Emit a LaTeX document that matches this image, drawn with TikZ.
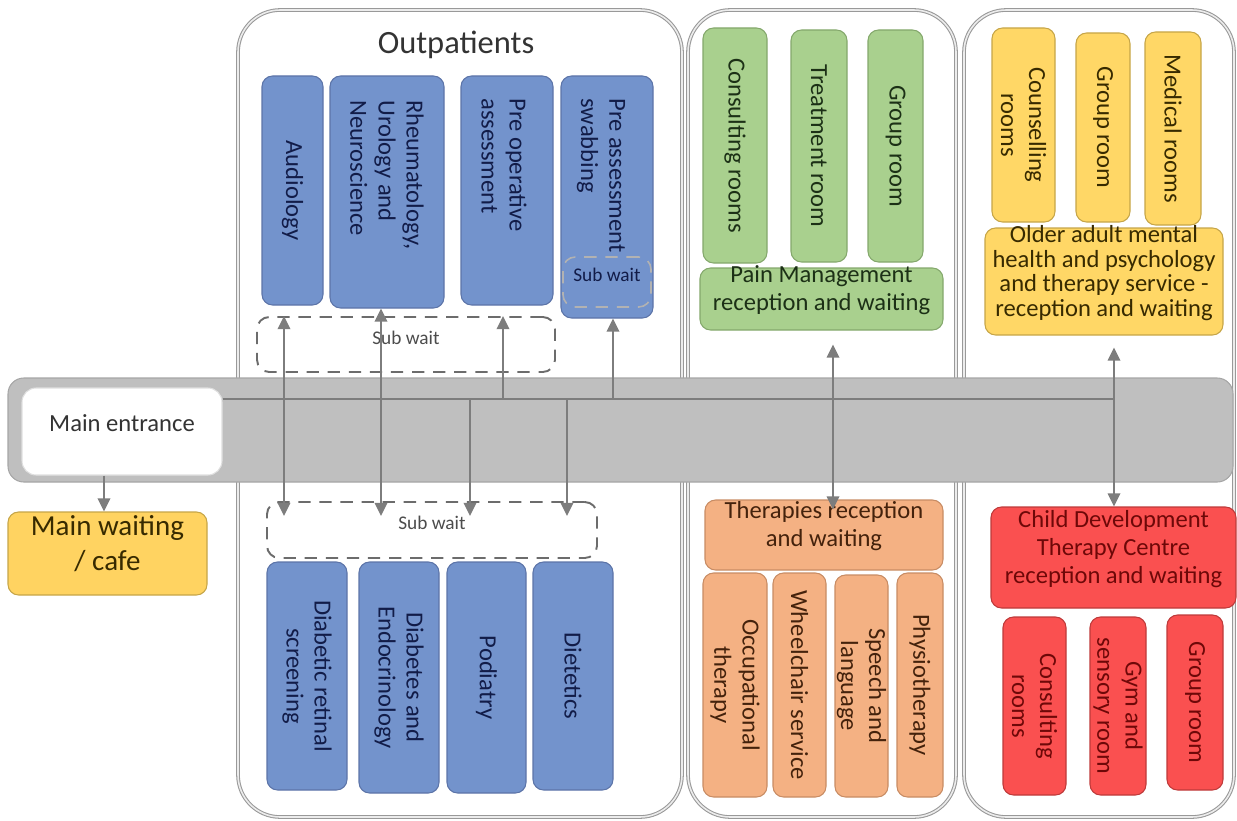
\documentclass[tikz,border=0pt]{standalone}
\usepackage{fontspec}
\setmainfont{Carlito}
\usetikzlibrary{fit,calc,arrows.meta}

\definecolor{opblue}{RGB}{115,147,204}
\definecolor{opblueline}{RGB}{92,116,168}
\definecolor{opbluetext}{RGB}{18,28,72}
\definecolor{pmgreen}{RGB}{169,208,142}
\definecolor{pmgreenline}{RGB}{132,168,108}
\definecolor{pmgreentext}{RGB}{28,48,22}
\definecolor{oayellow}{RGB}{255,215,102}
\definecolor{oayellowline}{RGB}{198,165,72}
\definecolor{oayellowtext}{RGB}{55,42,0}
\definecolor{thorange}{RGB}{244,177,131}
\definecolor{thorangeline}{RGB}{200,140,100}
\definecolor{thorangetext}{RGB}{68,34,12}
\definecolor{cdred}{RGB}{250,80,80}
\definecolor{cdredline}{RGB}{190,58,58}
\definecolor{cdredtext}{RGB}{110,8,8}
\definecolor{corridor}{RGB}{191,191,191}
\definecolor{linegrey}{RGB}{125,125,125}

\begin{document}
\begin{tikzpicture}[x=0.02cm, y=-0.02cm,
  box/.style={inner sep=0pt, rounded corners=6pt, line width=0.6pt, align=center,
    font=\fontsize{14}{16}\selectfont},
  blueroom/.style={box, draw=opblueline, fill=opblue},
  greenroom/.style={box, draw=pmgreenline, fill=pmgreen, text=pmgreentext},
  yellowroom/.style={box, draw=oayellowline, fill=oayellow, text=oayellowtext},
  orangeroom/.style={box, draw=thorangeline, fill=thorange, text=thorangetext},
  redroom/.style={box, draw=cdredline, fill=cdred, text=cdredtext},
  vtext/.style={rotate=-90, inner sep=0pt, align=center, font=\fontsize{14}{16}\selectfont},
  subwait/.style={inner sep=0pt, rounded corners=7pt, draw=gray!85!black, line width=1.1pt,
    dash pattern=on 7pt off 5pt, font=\fontsize{11}{13}\selectfont, text=black!70},
  panel/.style={draw=gray!80, double=gray!15, double distance=0.9pt, line width=0.6pt,
    rounded corners=24pt},
  arr/.style={draw=linegrey, line width=1.4pt, -{Triangle[length=7.5pt,width=7pt]}},
  twoway/.style={arr, {Triangle[length=7.5pt,width=7pt]}-{Triangle[length=7.5pt,width=7pt]}}]

\useasboundingbox (0,0) rectangle (1237,821);

%%%%%%%%%%%%%%%%%%%%%%%%%%%%
% the three wings
\draw[panel] (238,10) rectangle (682,817);
\draw[panel] (688,10) rectangle (956,817);
\draw[panel] (964,10) rectangle (1234,817);

\node[font=\fontsize{18.5}{22}\selectfont, text=black!80] (outp) at (456,45) {Outpatients};

%%%%%%%%%%%%%%%%%%%%%%%%%%%%
% corridor
\draw[fill=corridor, draw=gray!70, line width=0.6pt, rounded corners=9pt]
(8,378) rectangle (1233,482);

\node[box, fit={(22,388) (222,475)}, draw=gray!25, fill=white, rounded corners=8pt,
  text=black!80] (entr) {Main entrance};
\node[box, fit={(8,512) (207,595)}, draw=oayellowline, fill=oayellow!95!orange,
  text=oayellowtext, font=\fontsize{16.5}{19.5}\selectfont] (wait) {Main waiting\\ / cafe};

%%%%%%%%%%%%%%%%%%%%%%%%%%%%
% outpatients, upper row
\node[blueroom, fit={(262,76) (323,305)}] (aud) {};
\node[blueroom, fit={(330,76) (444,308)}] (rheum) {};
\node[blueroom, fit={(461,76) (553,305)}] (preop) {};
\node[blueroom, fit={(561,76) (653,318)}] (swab) {};

\node[vtext, text=opbluetext] (audt) at (aud) {Audiology};
\node[vtext, text=opbluetext, anchor=west, align=left] (rheumt) at (387,100)
  {Rheumatology,\\ Urology and\\ Neuroscience};
\node[vtext, text=opbluetext, anchor=west, align=left] (preopt) at (504,98)
  {Pre operative\\ assessment};
\node[vtext, text=opbluetext, anchor=west, align=left] (swabt) at (601,98)
  {Pre assessment\\ swabbing};
\node[subwait, draw=black!30, line width=0.9pt, text=opbluetext, fit={(563,257) (651,307)}] (swabwait) {Sub wait};

\node[subwait, fit={(257,317) (555,372)}] (topwait) {Sub wait};

% outpatients, lower row
\node[subwait, fit={(267,502) (597,558)}] (botwait) {Sub wait};

\node[blueroom, fit={(267,562) (347,790)}] (retina) {};
\node[blueroom, fit={(359,562) (439,793)}] (endo) {};
\node[blueroom, fit={(447,562) (526,793)}] (podi) {};
\node[blueroom, fit={(533,562) (613,790)}] (diet) {};

\node[vtext, text=opbluetext] (retinat) at (retina) {Diabetic retinal\\ screening};
\node[vtext, text=opbluetext] (endot) at (endo) {Diabetes and\\ Endocrinology};
\node[vtext, text=opbluetext] (podit) at (podi) {Podiatry};
\node[vtext, text=opbluetext] (dietT) at (diet) {Dietetics};

%%%%%%%%%%%%%%%%%%%%%%%%%%%%
% pain management and therapies
\node[greenroom, fit={(703,28) (767,263)}] (pcons) {};
\node[greenroom, fit={(791,30) (847,262)}] (ptreat) {};
\node[greenroom, fit={(868,30) (923,262)}] (pgroup) {};
\node[greenroom, fit={(700,268) (943,330)}] (pain) {Pain Management\\ reception and waiting};
\node[vtext, text=pmgreentext] (pconst) at (pcons) {Consulting rooms};
\node[vtext, text=pmgreentext] (ptreatt) at (ptreat) {Treatment room};
\node[vtext, text=pmgreentext] (pgroupt) at (pgroup) {Group room};

\node[orangeroom, fit={(705,500) (943,570)}] (ther) {Therapies reception\\ and waiting};
\node[orangeroom, fit={(703,573) (767,797)}] (occ) {};
\node[orangeroom, fit={(773,573) (826,797)}] (wheel) {};
\node[orangeroom, fit={(835,575) (888,797)}] (speech) {};
\node[orangeroom, fit={(897,573) (943,797)}] (physio) {};
\node[vtext, text=thorangetext] (occt) at (occ) {Occupational\\ therapy};
\node[vtext, text=thorangetext] (wheelt) at (wheel) {Wheelchair service};
\node[vtext, text=thorangetext] (speecht) at (speech) {Speech and\\ language};
\node[vtext, text=thorangetext] (physiot) at (physio) {Physiotherapy};

%%%%%%%%%%%%%%%%%%%%%%%%%%%%
% older adult and child development
\node[yellowroom, fit={(992,28) (1055,222)}] (ycouns) {};
\node[yellowroom, fit={(1076,33) (1130,222)}] (ygroup) {};
\node[yellowroom, fit={(1145,32) (1201,225)}] (ymed) {};
\node[yellowroom, fit={(985,228) (1223,335)}, font=\fontsize{14}{14}\selectfont] (older)
  {Older adult mental\\ health and psychology\\ and therapy service -\\ reception and waiting};
\node[vtext, text=oayellowtext] (ycounst) at (ycouns) {Counselling\\ rooms};
\node[vtext, text=oayellowtext] (ygroupt) at (ygroup) {Group room};
\node[vtext, text=oayellowtext] (ymedt) at (ymed) {Medical rooms};

\node[redroom, fit={(991,507) (1236,608)}] (child)
  {Child Development\\ Therapy Centre\\ reception and waiting};
\node[redroom, fit={(1003,617) (1066,795)}] (rcons) {};
\node[redroom, fit={(1090,617) (1146,795)}] (rgym) {};
\node[redroom, fit={(1167,615) (1223,790)}] (rgroup) {};
\node[vtext, text=cdredtext] (rconst) at (rcons) {Consulting\\ rooms};
\node[vtext, text=cdredtext] (rgymt) at (rgym) {Gym and\\ sensory room};
\node[vtext, text=cdredtext] (rgroupt) at (rgroup) {Group room};

%%%%%%%%%%%%%%%%%%%%%%%%%%%%
% routes
\coordinate (j0) at (104,399);
\coordinate (j1) at (284,399);
\coordinate (j2) at (381,399);
\coordinate (j3) at (470,399);
\coordinate (j4) at (503,399);
\coordinate (j5) at (567,399);
\coordinate (j6) at (613,399);
\coordinate (j7) at (833,399);
\coordinate (j8) at (1114,399);

\draw[draw=linegrey, line width=1.4pt] (entr.east |- j1) -- (j8);
\draw[arr] (entr.south -| j0) -- (wait.north -| j0);

\draw[twoway] (j1 |- topwait.north) -- ($(j1 |- botwait.north)+(0,15)$);
\draw[twoway] (j2 |- rheum.south) -- ($(j2 |- botwait.north)+(0,15)$);
\draw[arr] (j4) -- (j4 |- topwait.north);
\draw[arr] (j3) -- ($(j3 |- botwait.north)+(0,15)$);
\draw[arr] (j6) -- (j6 |- swab.south);
\draw[arr] (j5) -- ($(j5 |- botwait.north)+(0,15)$);

\draw[twoway] ($(j7 |- pain.south)+(0,14)$) -- ($(j7 |- ther.north)+(0,10)$);
\draw[twoway] ($(j8 |- older.south)+(0,12)$) -- (j8 |- child.north);
\end{tikzpicture}
\end{document}
